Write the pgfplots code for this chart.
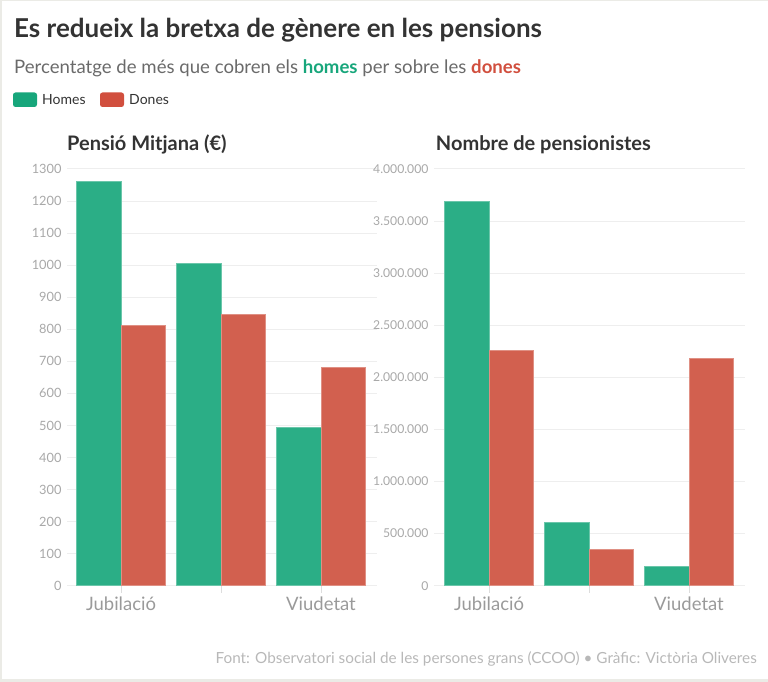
\documentclass[border=0pt]{standalone}
\usepackage{pgfplots}
\pgfplotsset{compat=1.18}
\usepackage{fontspec}
\setmainfont{Lato}
\definecolor{homes}{HTML}{2BAE86}
\definecolor{dones}{HTML}{D2604F}
\definecolor{homesL}{HTML}{17A67B}
\definecolor{donesL}{HTML}{D14F3E}
\definecolor{titlec}{HTML}{333333}
\definecolor{subc}{HTML}{6A6A6A}
\definecolor{tickc}{HTML}{A8A8A8}
\definecolor{xlabc}{HTML}{9A9A9A}
\definecolor{srcc}{HTML}{B8B8B8}
\definecolor{gridc}{HTML}{EEEEEE}
\definecolor{tickmc}{HTML}{DDDDDD}
\definecolor{framec}{HTML}{EBEBE6}

\pgfplotstableread{
x homes dones
0 1262 813
1 1006 845
2 494 680
}\pension
\pgfplotstableread{
x homes dones
0 3686000 2256000
1 611000 346000
2 186000 2179000
}\nombre

\pgfplotsset{
  panel/.style={
    scale only axis,
    height=416.7pt,
    ybar=0pt,
    bar width=0.445,
    ymin=0,
    xtick={0,1,2},
    xticklabels={Jubilació,,Viudetat},
    axis x line*=bottom,
    axis y line*=left,
    x axis line style={gridc, line width=1pt},
    y axis line style={draw=none},
    ymajorgrids,
    grid style={gridc, line width=1pt},
    tick align=outside,
    major tick length=7pt,
    xtick style={draw=tickmc, line width=0.8pt},
    ytick style={draw=none},
    /pgf/number format/assume math mode=true,
    yticklabel style={font=\fontsize{12.8}{15}\selectfont, text=tickc, xshift=5pt},
    xticklabel style={font=\fontsize{18.5}{20}\selectfont, text=xlabc, yshift=-1pt},
    clip=false,
  },
  hbar/.style={fill=homes, draw=homes!70!white, line width=0.8pt},
  dbar/.style={fill=dones, draw=dones!70!white, line width=0.8pt},
}

\begin{document}
\begin{tikzpicture}[x=1pt,y=1pt]
\path[use as bounding box] (0,0) rectangle (768,682);
\draw[framec, line width=1pt] (0,681.5) -- (768,681.5);
\draw[framec, line width=2pt] (1,0) -- (1,682);
\draw[framec, line width=3pt] (0,1.5) -- (768,1.5);

\node[anchor=base west, text=titlec, inner sep=0pt] at (14,644.7)
  {\fontsize{26}{30}\selectfont\bfseries Es redueix la bretxa de gènere en les pensions};
\node[anchor=base west, text=subc, inner sep=0pt] at (14,608)
  {\fontsize{18.6}{22}\selectfont Percentatge de més que cobren els \textcolor{homesL}{\bfseries homes} per sobre les \textcolor{donesL}{\bfseries dones}};

\fill[homesL, rounded corners=2.5pt] (13,575) rectangle (37,589.5);
\node[anchor=base west, text=titlec, inner sep=0pt] at (42,577)
  {\fontsize{14}{16}\selectfont Homes};
\fill[donesL, rounded corners=2.5pt] (100,575) rectangle (124,589.5);
\node[anchor=base west, text=titlec, inner sep=0pt] at (129,577)
  {\fontsize{14}{16}\selectfont Dones};

\node[anchor=base west, text=titlec, inner sep=0pt] at (67,531.3)
  {\fontsize{20}{24}\selectfont\bfseries Pensió Mitjana (€)};
\node[anchor=base west, text=titlec, inner sep=0pt] at (435.7,531.3)
  {\fontsize{20}{24}\selectfont\bfseries Nombre de pensionistes};

\begin{axis}[panel, at={(67pt,96.3pt)}, anchor=south west,
  width=310pt, xmin=-0.54, xmax=2.56, ymax=1300,
  ytick={0,100,...,1300},
  yticklabel style={/pgf/number format/.cd, fixed, 1000 sep={}}]
\addplot[hbar] table[x=x, y=homes] {\pension};
\addplot[dbar] table[x=x, y=dones] {\pension};
\end{axis}

\begin{axis}[panel, at={(434pt,96.3pt)}, anchor=south west,
  width=311pt, xmin=-0.55, xmax=2.56, ymax=4000000,
  ytick={0,500000,...,4000000},
  scaled y ticks=false,
  yticklabel style={font=\fontsize{12.2}{15}\selectfont, /pgf/number format/.cd, fixed, 1000 sep={.}}]
\addplot[hbar] table[x=x, y=homes] {\nombre};
\addplot[dbar] table[x=x, y=dones] {\nombre};
\end{axis}

\node[anchor=base east, text=srcc, inner sep=0pt] at (757,18.5)
  {\fontsize{15.3}{17}\selectfont Font: Observatori social de les persones grans (CCOO) • Gràfic: Victòria Oliveres};
\end{tikzpicture}
\end{document}
